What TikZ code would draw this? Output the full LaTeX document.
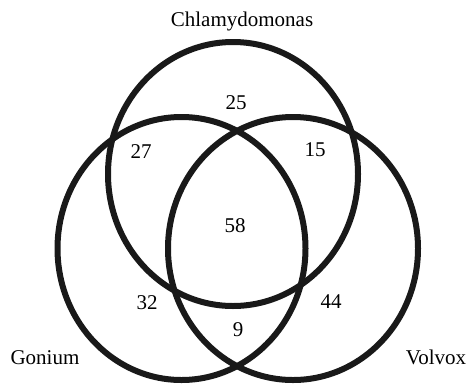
\documentclass[tikz,border=0pt]{standalone}
\usepackage{fontspec}
\setmainfont{Liberation Serif}
\begin{document}
\begin{tikzpicture}[x=1pt,y=-1pt,
  ring/.style={line width=6pt, draw=black!90},
  lbl/.style={anchor=base, inner sep=0pt, font=\fontsize{21}{24}\selectfont}]
\useasboundingbox (0,0) rectangle (468,383);
\draw[ring] (233,174) ellipse [x radius=125pt, y radius=132pt];
\draw[ring] (181.5,248.5) ellipse [x radius=124pt, y radius=131.5pt];
\draw[ring] (293,248.5) ellipse [x radius=125pt, y radius=131.5pt];
\node[lbl] (chl) at (242,26) {Chlamydomonas};
\node[lbl] (gon) at (45,364) {Gonium};
\node[lbl] (vol) at (436,364) {Volvox};
\node[lbl] (n25) at (236,109.5) {25};
\node[lbl] (n27) at (141,158.3) {27};
\node[lbl] (n15) at (315,156) {15};
\node[lbl] (n58) at (235,232.7) {58};
\node[lbl] (n32) at (147,309.3) {32};
\node[lbl] (n44) at (331,308.7) {44};
\node[lbl] (n9) at (238,336.7) {9};
\end{tikzpicture}
\end{document}
